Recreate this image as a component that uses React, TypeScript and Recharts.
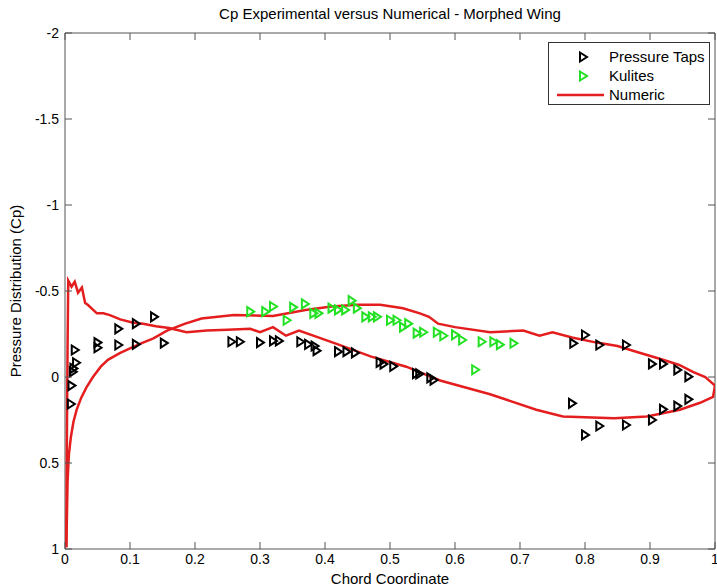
import React from 'react';
import { ScatterChart, Scatter, XAxis, YAxis } from 'recharts';

// Axis ticks
const xTicks = [0, 0.1, 0.2, 0.3, 0.4, 0.5, 0.6, 0.7, 0.8, 0.9, 1];
const yTicks = [-2, -1.5, -1, -0.5, 0, 0.5, 1];

// Pressure taps (chord coordinate, Cp)
const tapX = [0.009, 0.010, 0.012, 0.013, 0.017, 0.015, 0.050, 0.050, 0.082, 0.082, 0.109, 0.109, 0.137, 0.152,
  0.256, 0.269, 0.300, 0.320, 0.329, 0.362, 0.374, 0.384, 0.387, 0.420, 0.433, 0.446,
  0.484, 0.490, 0.505, 0.540, 0.545, 0.562, 0.567,
  0.780, 0.782, 0.800, 0.800, 0.822, 0.822, 0.863, 0.863, 0.903, 0.903, 0.920, 0.920, 0.942, 0.942, 0.959, 0.959];
const tapCp = [0.157, 0.05, -0.03, -0.05, -0.083, -0.157, -0.2, -0.17, -0.28, -0.186, -0.31, -0.19, -0.35, -0.197,
  -0.205, -0.205, -0.2, -0.21, -0.21, -0.205, -0.19, -0.18, -0.153, -0.147, -0.147, -0.14,
  -0.085, -0.075, -0.062, -0.02, -0.018, 0.005, 0.018,
  0.153, -0.196, -0.244, 0.337, -0.186, 0.285, -0.186, 0.279, -0.076, 0.25, -0.076, 0.188, -0.041, 0.169, -0.002, 0.13];

// Kulites
const kuliteX = [0.285, 0.308, 0.320, 0.341, 0.351, 0.369, 0.382, 0.390, 0.410, 0.420, 0.431, 0.441, 0.449,
  0.462, 0.472, 0.480, 0.500, 0.510, 0.520, 0.528, 0.541, 0.551, 0.572, 0.582, 0.600, 0.611,
  0.631, 0.641, 0.659, 0.669, 0.690];
const kuliteCp = [-0.38, -0.38, -0.41, -0.33, -0.405, -0.425, -0.37, -0.37, -0.4, -0.39, -0.39, -0.444, -0.4,
  -0.35, -0.35, -0.35, -0.33, -0.33, -0.29, -0.31, -0.255, -0.26, -0.26, -0.24, -0.245, -0.215,
  -0.042, -0.205, -0.205, -0.188, -0.196];

// Numeric solution, first branch (peak at leading edge)
const numAX = [0.002, 0.003, 0.004, 0.005, 0.010, 0.015, 0.020, 0.026, 0.031, 0.035, 0.049, 0.059, 0.069, 0.085,
  0.105, 0.120, 0.140, 0.160, 0.187, 0.218, 0.250, 0.285, 0.300, 0.320, 0.340, 0.360, 0.420, 0.470,
  0.525, 0.577, 0.654, 0.725, 0.766, 0.845, 0.895, 0.946, 0.977, 0.997, 1.0];
const numACp = [0.99, 0.3, -0.2, -0.56, -0.525, -0.554, -0.49, -0.52, -0.43, -0.42, -0.37, -0.37, -0.36, -0.335,
  -0.316, -0.31, -0.295, -0.285, -0.26, -0.27, -0.275, -0.28, -0.26, -0.29, -0.24, -0.27, -0.19, -0.12,
  -0.06, 0.02, 0.1, 0.19, 0.23, 0.24, 0.23, 0.19, 0.15, 0.115, 0.05];

// Numeric solution, second branch
const numBX = [0.002, 0.003, 0.004, 0.006, 0.009, 0.013, 0.018, 0.025, 0.033, 0.043, 0.055, 0.066, 0.085,
  0.105, 0.120, 0.136, 0.157, 0.185, 0.210, 0.260, 0.320, 0.370, 0.410, 0.450, 0.485, 0.520, 0.546,
  0.560, 0.574, 0.600, 0.654, 0.705, 0.730, 0.750, 0.780, 0.818, 0.850, 0.880, 0.920, 0.945, 0.966,
  0.985, 1.0];
const numBCp = [0.99, 0.8, 0.6, 0.45, 0.35, 0.26, 0.19, 0.12, 0.06, 0.0, -0.06, -0.1, -0.14,
  -0.175, -0.2, -0.225, -0.27, -0.31, -0.34, -0.36, -0.355, -0.39, -0.41, -0.42, -0.42, -0.4, -0.37,
  -0.35, -0.31, -0.29, -0.26, -0.27, -0.24, -0.26, -0.23, -0.2, -0.18, -0.145, -0.1, -0.07, -0.03,
  0.0, 0.05];

const zip = (xs: number[], ys: number[]) => xs.map((x, i) => ({ x, y: ys[i] }));

const tapData = zip(tapX, tapCp);
const kuliteData = zip(kuliteX, kuliteCp);
const numAData = zip(numAX, numACp);
const numBData = zip(numBX, numBCp);

const RED = '#e41e1e';
const GREEN = '#22e022';
const AXIS = '#555';
const FONT = '"Liberation Sans", Arial, Helvetica, sans-serif';
const TICK_LEN = 7;
const GAP = 5;

const triangle = (color: string) => (props: any) => {
  const { cx, cy } = props;
  if (cx == null || cy == null) return <g />;
  return (
    <polygon
      points={`${cx - 3},${cy - 4.5} ${cx + 4},${cy} ${cx - 3},${cy + 4.5}`}
      fill="none"
      stroke={color}
      strokeWidth={2}
    />
  );
};

const noShape = () => <g />;

// MATLAB style ticks: short marks pointing into the plot box
const BottomTick = (props: any) => {
  const { x, y, payload } = props;
  const axisY = y - GAP;
  return (
    <g>
      <line x1={x} y1={axisY} x2={x} y2={axisY - TICK_LEN} stroke={AXIS} />
      <text x={x} y={y} dy="0.71em" textAnchor="middle" fontSize={14} fontFamily={FONT} fill="#000">
        {String(payload.value)}
      </text>
    </g>
  );
};

const LeftTick = (props: any) => {
  const { x, y, payload } = props;
  const axisX = x + GAP;
  return (
    <g>
      <line x1={axisX} y1={y} x2={axisX + TICK_LEN} y2={y} stroke={AXIS} />
      <text x={x - 1} y={y} dy="0.355em" textAnchor="end" fontSize={14} fontFamily={FONT} fill="#000">
        {String(payload.value)}
      </text>
    </g>
  );
};

const TopTick = (props: any) => {
  const { x, y } = props;
  const axisY = y + GAP;
  return <line x1={x} y1={axisY} x2={x} y2={axisY + TICK_LEN} stroke={AXIS} />;
};

const RightTick = (props: any) => {
  const { x, y } = props;
  const axisX = x - GAP;
  return <line x1={axisX} y1={y} x2={axisX - TICK_LEN} y2={y} stroke={AXIS} />;
};

const YLabel = () => (
  <text x={21} y={291} transform="rotate(-90 21 291)" textAnchor="middle" fontSize={15} fontFamily={FONT} fill="#000">
    Pressure Distribution (Cp)
  </text>
);

const LegendMarker = ({ color }: { color: string }) => (
  <svg width={48} height={16} style={{ display: 'block' }}>
    <polygon points="21,3.5 28,8 21,12.5" fill="none" stroke={color} strokeWidth={2} />
  </svg>
);

const App: React.FC = () => {
  return (
    <div style={{ position: 'absolute', left: 0, top: 0, width: 717, height: 587, background: '#fff', fontFamily: FONT }}>
      <div style={{ position: 'absolute', left: 65, width: 650, top: 5, textAlign: 'center', fontSize: 15, color: '#000' }}>
        Cp Experimental versus Numerical - Morphed Wing
      </div>
      <ScatterChart width={717} height={587} margin={{ top: 32, right: 1, bottom: 0, left: 0 }}>
        <XAxis
          type="number"
          dataKey="x"
          domain={[0, 1]}
          ticks={xTicks}
          height={38}
          tickLine={false}
          tickSize={0}
          tickMargin={GAP}
          stroke={AXIS}
          tick={<BottomTick />}
          interval={0}
          allowDataOverflow
          label={{ value: 'Chord Coordinate', position: 'insideBottom', offset: 3, fill: '#000', fontSize: 15 }}
        />
        <XAxis
          xAxisId="top"
          orientation="top"
          type="number"
          dataKey="x"
          domain={[0, 1]}
          ticks={xTicks}
          height={1}
          tickLine={false}
          tickSize={0}
          tickMargin={GAP}
          stroke={AXIS}
          tick={<TopTick />}
          interval={0}
          allowDataOverflow
        />
        <YAxis
          type="number"
          dataKey="y"
          domain={[-2, 1]}
          reversed
          ticks={yTicks}
          width={65}
          tickLine={false}
          tickSize={0}
          tickMargin={GAP}
          stroke={AXIS}
          tick={<LeftTick />}
          interval={0}
          allowDataOverflow
          label={{ content: () => <YLabel /> }}
        />
        <YAxis
          yAxisId="right"
          orientation="right"
          type="number"
          dataKey="y"
          domain={[-2, 1]}
          reversed
          ticks={yTicks}
          width={1}
          tickLine={false}
          tickSize={0}
          tickMargin={GAP}
          stroke={AXIS}
          tick={<RightTick />}
          interval={0}
          allowDataOverflow
        />
        {/* invisible series so the top/right box axes get drawn */}
        <Scatter name="box" xAxisId="top" yAxisId="right" data={tapData} shape={noShape} legendType="none" isAnimationActive={false} />
        <Scatter name="Numeric A" data={numAData} line={{ stroke: RED, strokeWidth: 2.5 }} lineType="joint" shape={noShape} isAnimationActive={false} />
        <Scatter name="Numeric B" data={numBData} line={{ stroke: RED, strokeWidth: 2.5 }} lineType="joint" shape={noShape} isAnimationActive={false} />
        <Scatter name="Kulites" data={kuliteData} shape={triangle(GREEN)} isAnimationActive={false} />
        <Scatter name="Pressure Taps" data={tapData} shape={triangle('#000')} isAnimationActive={false} />
      </ScatterChart>
      <div
        style={{
          position: 'absolute', left: 548, top: 42, width: 162, height: 63,
          border: '1px solid #333', background: '#fff', fontSize: 15, color: '#000',
          boxSizing: 'border-box', paddingTop: 4,
        }}
      >
        {[
          { label: 'Pressure Taps', color: '#000' },
          { label: 'Kulites', color: GREEN },
        ].map((d) => (
          <div key={d.label} style={{ display: 'flex', alignItems: 'center', height: 19, paddingLeft: 10 }}>
            <LegendMarker color={d.color} />
            <span style={{ marginLeft: 2 }}>{d.label}</span>
          </div>
        ))}
        <div style={{ display: 'flex', alignItems: 'center', height: 19, paddingLeft: 7 }}>
          <svg width={51} height={16} style={{ display: 'block' }}>
            <line x1={1} y1={8} x2={48} y2={8} stroke={RED} strokeWidth={2.5} />
          </svg>
          <span style={{ marginLeft: 2 }}>Numeric</span>
        </div>
      </div>
    </div>
  );
};

export default App;
